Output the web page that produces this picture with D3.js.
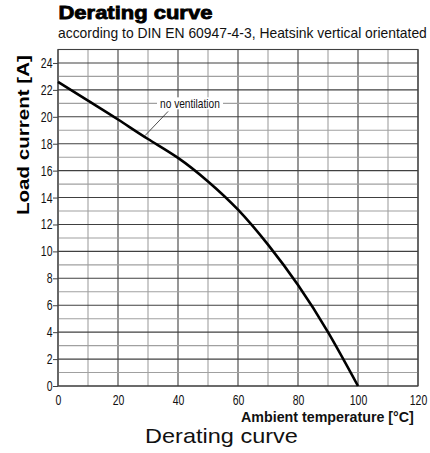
<!DOCTYPE html>
<html>
<head>
<meta charset="utf-8">
<script src="https://cdn.jsdelivr.net/npm/d3@7"></script>
<style>
  body { margin: 0; background: #fff; }
</style>
</head>
<body>
<svg id="chart" width="430" height="453"></svg>
<script>
// 디레이팅 곡선 — 데이터는 그림에서 읽은 값
var temps = [0, 10, 20, 30, 40, 50, 60, 70, 80, 90, 100];
var current = [22.6, 21.2, 19.8, 18.35, 16.95, 15.2, 13.1, 10.5, 7.5, 4.0, 0];
var xTicks = [0, 20, 40, 60, 80, 100, 120];
var yTicks = [0, 2, 4, 6, 8, 10, 12, 14, 16, 18, 20, 22, 24];
var seriesLabel = "no ventilation";

var svg = d3.select("#chart");
var L = 58, R = 418, T = 49.5, B = 386;
var x = d3.scaleLinear().domain([0, 120]).range([L, R]);
var y = d3.scaleLinear().domain([0, 25]).range([B, T]);
var SANS = "'Liberation Sans', Arial, sans-serif";
var SX = 0.75;   // 좁은 글꼴 흉내 (가로 축소)

// 텍스트를 (ax, ay) 기준으로 가로 폭 w 에 맞춤
function fitText(t, ax, ay, w) {
  var n = t.node().getComputedTextLength();
  var s = w / n;
  t.attr("x", 0).attr("y", 0)
    .attr("transform", "translate(" + ax + "," + ay + ") scale(" + s + ",1)");
  return t;
}

fitText(svg.append("text").style("font-family", SANS).style("font-weight", "bold")
  .style("font-size", "18px").attr("stroke", "#000").attr("stroke-width", 0.8)
  .text("Derating curve"), 58.5, 18.5, 154);
fitText(svg.append("text").style("font-family", SANS).style("font-size", "14px")
  .attr("fill", "#111").text("according to DIN EN 60947-4-3, Heatsink vertical orientated"), 58, 37.5, 369);

var grid = svg.append("g");
d3.range(0, 121, 10).forEach(function (v) {
  grid.append("line").attr("x1", x(v)).attr("x2", x(v)).attr("y1", T).attr("y2", B)
    .attr("stroke", v % 20 === 0 ? "#404040" : "#a0a0a0").attr("stroke-width", 1.1);
});
d3.range(0, 26, 1).forEach(function (v) {
  grid.append("line").attr("x1", L).attr("x2", R).attr("y1", y(v)).attr("y2", y(v))
    .attr("stroke", v % 2 === 0 ? "#404040" : "#a0a0a0").attr("stroke-width", 1.1);
});
svg.append("rect").attr("x", L).attr("y", T).attr("width", R - L).attr("height", B - T)
  .attr("fill", "none").attr("stroke", "#404040").attr("stroke-width", 1.1);

var yAxis = svg.append("g").attr("transform", "translate(" + L + ",0)")
  .call(d3.axisLeft(y).tickValues(yTicks).tickSize(5).tickPadding(0).tickFormat(d3.format("d")));
var xAxis = svg.append("g").attr("transform", "translate(0," + B + ")")
  .call(d3.axisBottom(x).tickValues(xTicks).tickSize(0).tickPadding(9).tickFormat(d3.format("d")));
[yAxis, xAxis].forEach(function (a) {
  a.select(".domain").remove();
  a.selectAll("line").attr("stroke", "#404040");
  a.selectAll("text").style("font-family", SANS).style("font-size", "14px").attr("fill", "#111")
    .attr("transform", "scale(" + SX + ",1)");
});
yAxis.selectAll("text").attr("x", -5.5 / SX);

var line = d3.line().x(function (d, i) { return x(temps[i]); }).y(function (d) { return y(d); })
  .curve(d3.curveNatural);
svg.append("path").attr("d", line(current)).attr("fill", "none")
  .attr("stroke", "#000").attr("stroke-width", 2.6);

// 라벨 + 지시선
var lbl = svg.append("g");
fitText(lbl.append("text").style("font-family", SANS).style("font-size", "13px")
  .attr("fill", "#111").attr("dy", "0.35em").text(seriesLabel), x(34), y(21), 60);
lbl.insert("rect", "text").attr("x", x(34) - 3).attr("y", y(21) - 6).attr("width", 66)
  .attr("height", 12).attr("fill", "#fff");
svg.append("line").attr("x1", x(36.7)).attr("y1", y(20.4)).attr("x2", x(29)).attr("y2", y(18.6))
  .attr("stroke", "#222").attr("stroke-width", 0.8);

var yl = svg.append("g").attr("transform", "translate(29,135) rotate(-90)");
fitText(yl.append("text").style("font-family", SANS)
  .style("font-weight", "bold").style("font-size", "17px").text("Load current [A]"), -80, 0, 160);

fitText(svg.append("text").style("font-family", SANS).style("font-weight", "bold")
  .style("font-size", "15px").attr("fill", "#111")
  .text("Ambient temperature [°C]"), 241, 422, 173);
fitText(svg.append("text").style("font-family", SANS).style("font-size", "21px")
  .attr("fill", "#111").text("Derating curve"), 145, 443, 153);
</script>
</body>
</html>
